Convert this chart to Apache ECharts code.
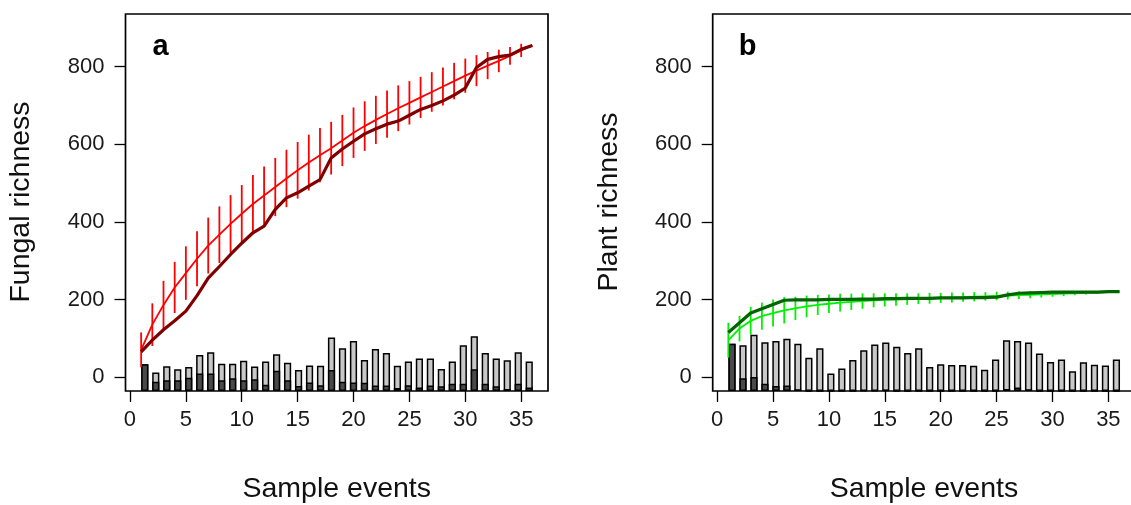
<!DOCTYPE html>
<html><head><meta charset="utf-8">
<script src="https://cdn.jsdelivr.net/npm/echarts@6/dist/echarts.min.js"></script>
<style>html,body{margin:0;padding:0;background:#fff}#c{width:1131px;height:505px}</style>
</head><body><div id="c"></div>
<script>
// ---------- data ----------
const samples = [1,2,3,4,5,6,7,8,9,10,11,12,13,14,15,16,17,18,19,20,21,22,23,24,25,26,27,28,29,30,31,32,33,34,35,36];
const xTicks = [0,5,10,15,20,25,30,35];
const yTicks = [0,200,400,600,800];

const fungalMean = [70,135,186,231,268,305,339,367,395,421,446,468,490,512,533,553,572,590,610,630,647,663,678,693,707,721,735,749,763,777,790,803,815,828,842,855];
const fungalSD = [45,55,62,66,69,71,72,73,74,74,75,75,75,74,73,72,70,68,66,65,64,62,61,59,56,53,51,49,47,44,40,35,29,23,17,0];
const fungalObserved = [65,95,122,145,170,210,255,285,316,345,372,389,432,462,475,492,509,565,588,608,627,640,652,660,675,690,700,712,727,745,798,819,826,830,845,855];
const fungalPerSample = [69,48,64,56,62,93,100,70,70,78,63,76,95,73,54,66,65,138,110,129,80,108,98,65,76,84,84,57,76,118,141,98,84,79,100,76];
const fungalNew = [69,24,28,28,34,45,45,28,33,28,30,16,52,28,13,22,15,54,24,22,21,14,14,8,15,9,14,12,19,19,56,19,12,5,19,9];

const plantMean = [95,125,145,157,165,172,177,182,186,189,192,194,196,198,199,200,201,202,203,204,205,206,207,208,209,210,211,212,213,214,215,216,217,218,219,220];
const plantSD = [45,33,36,35,35,34,30,28,26,24,23,21,20,18,17,16,15,14,14,13,13,12,12,11,11,10,10,9,8,7,6,5,4,3,2,0];
const plantObserved = [115,140,165,176,187,198,199,199,199,200,200,200,201,201,202,202,203,203,203,204,204,204,205,205,206,212,216,217,218,219,219,219,219,219,220,220];
const plantPerSample = [122,118,145,126,129,135,122,86,110,45,58,80,105,120,125,114,98,110,62,69,67,67,65,55,81,131,129,125,97,75,81,51,74,68,66,81];
const plantNew = [122,33,36,19,13,14,4,0,0,0,0,0,1,1,3,0,0,0,0,0,0,0,0,0,0,5,9,4,0,0,0,0,0,0,0,0];

// ---------- layout ----------
const FONT = "'Liberation Sans', Arial, Helvetica, sans-serif";
const Y_MIN = -36, Y_MAX = 936;
const panels = [
  {left:125.5, mean:fungalMean, sd:fungalSD, obs:fungalObserved, per:fungalPerSample, nw:fungalNew,
   meanColor:'#ff0000', obsColor:'#800000', label:'a', yTitle:'Fungal richness'},
  {left:712.7, mean:plantMean, sd:plantSD, obs:plantObserved, per:plantPerSample, nw:plantNew,
   meanColor:'#00f000', obsColor:'#006400', label:'b', yTitle:'Plant richness'}
];
const GRID_TOP = 14, GRID_H = 377, GRID_W = 422.5;

const chart = echarts.init(document.getElementById('c'), null, {renderer:'canvas'});
const grid = [], xAxis = [], yAxis = [], series = [], graphic = [];

panels.forEach((p, g) => {
  grid.push({left:p.left, top:GRID_TOP, width:GRID_W, height:GRID_H, show:true,
    borderColor:'#000', borderWidth:1.7, backgroundColor:'transparent',
    containLabel:false, outerBoundsMode:'none'});
  xAxis.push({type:'value', gridIndex:g, min:-0.4, max:37.4,
    axisLine:{show:false, onZero:false},
    axisTick:{show:true, inside:false, length:11, lineStyle:{color:'#000', width:1.3}, customValues:xTicks},
    axisLabel:{show:true, customValues:xTicks, fontSize:22, color:'#1a1a1a', margin:18, fontFamily:FONT},
    splitLine:{show:false}});
  xAxis.push({type:'value', gridIndex:g, min:-0.757, max:37.71, show:false,
    axisLine:{onZero:false}, splitLine:{show:false}});
  yAxis.push({type:'value', gridIndex:g, min:Y_MIN, max:Y_MAX,
    axisLine:{show:false, onZero:false},
    axisTick:{show:true, inside:false, length:11, lineStyle:{color:'#000', width:1.3}, customValues:yTicks},
    axisLabel:{show:true, customValues:yTicks, fontSize:22, color:'#1a1a1a', margin:21, fontFamily:FONT},
    splitLine:{show:false}});
  yAxis.push({type:'value', gridIndex:g, min:0, max:Y_MAX - Y_MIN, show:false,
    axisLine:{onZero:false}, splitLine:{show:false}});

  const xb = g*2+1, yb = g*2+1, xm = g*2, ym = g*2;
  series.push({type:'bar', xAxisIndex:xb, yAxisIndex:yb, barWidth:7.2, barGap:'-100%',
    data: samples.map((s,i)=>[s, p.per[i]]),
    itemStyle:{color:'#c8c8c8', borderColor:'#000', borderWidth:1.5}, z:2, silent:true, animation:false});
  series.push({type:'bar', xAxisIndex:xb, yAxisIndex:yb, barWidth:7.2, barGap:'-100%',
    data: samples.map((s,i)=>[s, p.nw[i]]),
    itemStyle:{color:'#4a4a4a', borderColor:'#000', borderWidth:1.5}, z:3, silent:true, animation:false});
  series.push({type:'custom', xAxisIndex:xm, yAxisIndex:ym,
    data: samples.map((s,i)=>[s, p.mean[i]-p.sd[i], p.mean[i]+p.sd[i]]),
    encode:{x:0, y:[1,2]},
    renderItem:(params, api) => {
      const a = api.coord([api.value(0), api.value(1)]);
      const b = api.coord([api.value(0), api.value(2)]);
      return {type:'line', shape:{x1:a[0], y1:a[1], x2:b[0], y2:b[1]},
        style:{stroke:p.meanColor, lineWidth:1.8}};
    }, z:4, silent:true, animation:false});
  series.push({type:'line', xAxisIndex:xm, yAxisIndex:ym, data: samples.map((s,i)=>[s, p.mean[i]]),
    symbol:'none', lineStyle:{color:p.meanColor, width:1.8}, z:5, silent:true, animation:false});
  series.push({type:'line', xAxisIndex:xm, yAxisIndex:ym, data: samples.map((s,i)=>[s, p.obs[i]]),
    symbol:'none', lineStyle:{color:p.obsColor, width:3.2}, z:6, silent:true, animation:false});

  const cx = p.left + GRID_W/2;
  graphic.push({type:'text', x:p.left + 35, y:47, style:{text:p.label, font:'bold 29px ' + FONT,
    fill:'#000', textAlign:'center', textVerticalAlign:'middle'}});
  graphic.push({type:'text', x:cx, y:489, style:{text:'Sample events', font:'28.5px ' + FONT,
    fill:'#111', textAlign:'center', textVerticalAlign:'middle'}});
  graphic.push({type:'text', x:p.left - 104, y:202, rotation:Math.PI/2,
    style:{text:p.yTitle, font:'28.5px ' + FONT, fill:'#111', textAlign:'center', textVerticalAlign:'middle'}});
});

chart.setOption({animation:false, backgroundColor:'#fff', grid, xAxis, yAxis, series, graphic});
</script>
</body></html>
